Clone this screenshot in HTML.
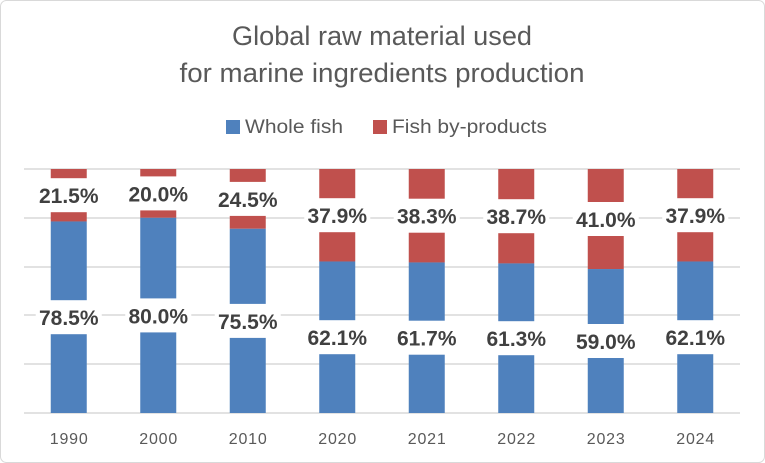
<!DOCTYPE html>
<html><head><meta charset="utf-8"><style>html,body{margin:0;padding:0;background:#fff}svg{display:block}</style></head>
<body>
<svg width="765" height="463" xmlns="http://www.w3.org/2000/svg" font-family="Liberation Sans, sans-serif">
<rect x="0.5" y="0.5" width="764" height="462" rx="6" fill="#fff" stroke="#d9d9d9"/>
<g fill="#595959" font-size="27" text-anchor="middle">
<text x="382" y="45" textLength="300" lengthAdjust="spacingAndGlyphs">Global raw material used</text>
<text x="382" y="82" textLength="405" lengthAdjust="spacingAndGlyphs">for marine ingredients production</text>
</g>
<rect x="226" y="120" width="14" height="14" fill="#4f81bd"/>
<text x="245" y="133" font-size="19" fill="#595959" textLength="98" lengthAdjust="spacingAndGlyphs">Whole fish</text>
<rect x="373" y="120" width="14" height="14" fill="#c0504d"/>
<text x="392" y="133" font-size="19" fill="#595959" textLength="155" lengthAdjust="spacingAndGlyphs">Fish by-products</text>
<g stroke="#d9d9d9" stroke-width="1.5">
<line x1="24" x2="740" y1="169" y2="169"/><line x1="24" x2="740" y1="218" y2="218"/>
<line x1="24" x2="740" y1="267" y2="267"/><line x1="24" x2="740" y1="315" y2="315"/>
<line x1="24" x2="740" y1="364" y2="364"/><line x1="24" x2="740" y1="413" y2="413"/>
</g>
<g fill="#c0504d">
<rect x="50.75" y="169" width="36" height="52.46"/>
<rect x="140.25" y="169" width="36" height="48.8"/>
<rect x="229.75" y="169" width="36" height="59.78"/>
<rect x="319.25" y="169" width="36" height="92.48"/>
<rect x="408.75" y="169" width="36" height="93.45"/>
<rect x="498.25" y="169" width="36" height="94.43"/>
<rect x="587.75" y="169" width="36" height="100.04"/>
<rect x="677.25" y="169" width="36" height="92.48"/>
</g>
<g fill="#4f81bd">
<rect x="50.75" y="221.46" width="36" height="191.54"/>
<rect x="140.25" y="217.8" width="36" height="195.2"/>
<rect x="229.75" y="228.78" width="36" height="184.22"/>
<rect x="319.25" y="261.48" width="36" height="151.52"/>
<rect x="408.75" y="262.45" width="36" height="150.55"/>
<rect x="498.25" y="263.43" width="36" height="149.57"/>
<rect x="587.75" y="269.04" width="36" height="143.96"/>
<rect x="677.25" y="261.48" width="36" height="151.52"/>
</g>
<g fill="#fff">
<rect x="35.75" y="178.2" width="66" height="34"/><rect x="35.75" y="300.2" width="66" height="34"/>
<rect x="125.25" y="176.4" width="66" height="34"/><rect x="125.25" y="298.4" width="66" height="34"/>
<rect x="214.75" y="181.9" width="66" height="34"/><rect x="214.75" y="303.9" width="66" height="34"/>
<rect x="304.25" y="198.2" width="66" height="34"/><rect x="304.25" y="320.2" width="66" height="34"/>
<rect x="393.75" y="198.7" width="66" height="34"/><rect x="393.75" y="320.7" width="66" height="34"/>
<rect x="483.25" y="199.2" width="66" height="34"/><rect x="483.25" y="321.2" width="66" height="34"/>
<rect x="572.75" y="202" width="66" height="34"/><rect x="572.75" y="324" width="66" height="34"/>
<rect x="662.25" y="198.2" width="66" height="34"/><rect x="662.25" y="320.2" width="66" height="34"/>
</g>
<g fill="#404040" font-size="21" font-weight="bold" text-anchor="middle">
<text x="68.75" y="203.2">21.5%</text><text x="68.75" y="325.2">78.5%</text>
<text x="158.25" y="201.4">20.0%</text><text x="158.25" y="323.4">80.0%</text>
<text x="247.75" y="206.9">24.5%</text><text x="247.75" y="328.9">75.5%</text>
<text x="337.25" y="223.2">37.9%</text><text x="337.25" y="345.2">62.1%</text>
<text x="426.75" y="223.7">38.3%</text><text x="426.75" y="345.7">61.7%</text>
<text x="516.25" y="224.2">38.7%</text><text x="516.25" y="346.2">61.3%</text>
<text x="605.75" y="227">41.0%</text><text x="605.75" y="349">59.0%</text>
<text x="695.25" y="223.2">37.9%</text><text x="695.25" y="345.2">62.1%</text>
</g>
<g fill="#595959" font-size="16" text-anchor="middle">
<text x="68.75" y="444" textLength="38">1990</text><text x="158.25" y="444" textLength="38">2000</text>
<text x="247.75" y="444" textLength="38">2010</text><text x="337.25" y="444" textLength="38">2020</text>
<text x="426.75" y="444" textLength="38">2021</text><text x="516.25" y="444" textLength="38">2022</text>
<text x="605.75" y="444" textLength="38">2023</text><text x="695.25" y="444" textLength="38">2024</text>
</g>
</svg>
</body></html>
